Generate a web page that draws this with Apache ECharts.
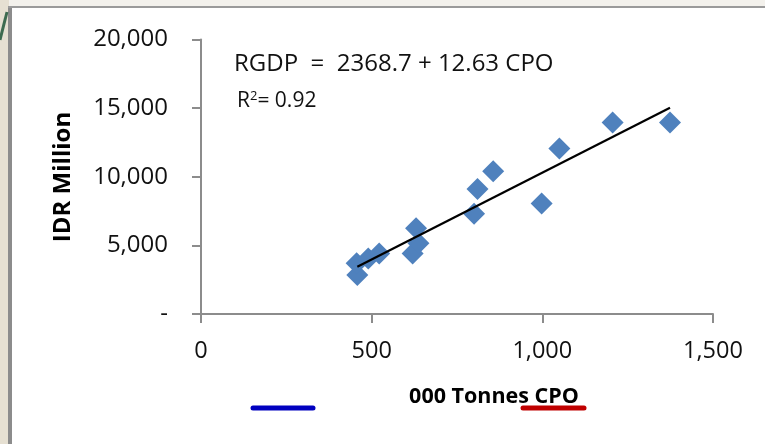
<!DOCTYPE html>
<html>
<head>
<meta charset="utf-8">
<script src="https://cdn.jsdelivr.net/npm/echarts@6/dist/echarts.min.js"></script>
<style>
html,body{margin:0;padding:0;background:#ffffff;}
#chart{width:765px;height:444px;}
</style>
</head>
<body>
<div id="chart"></div>
<script>
// Data
var cpo  = [458, 456, 490, 522, 620, 630, 637, 800, 810, 856, 998, 1050, 1206, 1374];
var rgdp = [2850, 3700, 4050, 4400, 4400, 6250, 5150, 7300, 9100, 10400, 8050, 12050, 13950, 13950];
var trendX = [458, 1374];
var trendY = [3450, 15030];
var yTickValues = [0, 5000, 10000, 15000, 20000];
var yTickLabels = ['-', '5,000', '10,000', '15,000', '20,000'];
var xTickValues = [0, 500, 1000, 1500];
var xTickLabels = ['0', '500', '1,000', '1,500'];
var equationText = 'RGDP  =  2368.7 + 12.63 CPO';
var r2Text = 'R{sup|2}= 0.92';
var xName = '000 Tonnes CPO';
var yName = 'IDR Million';

var FONT = '"Open Sans", "Liberation Sans", sans-serif';
var points = cpo.map(function (x, i) { return [x, rgdp[i]]; });
var trend = trendX.map(function (x, i) { return [x, trendY[i]]; });

var chart = echarts.init(document.getElementById('chart'));
chart.setOption({
  backgroundColor: '#ffffff',
  animation: false,
  grid: { left: 201, right: 52, top: 39.5, bottom: 130 },
  xAxis: {
    type: 'value', min: 0, max: 1500, interval: 500,
    axisLine: { show: true, lineStyle: { color: '#8c8c8c', width: 2 } },
    axisTick: { show: true, length: 9, lineStyle: { color: '#8c8c8c', width: 2 } },
    splitLine: { show: false },
    axisLabel: {
      margin: 25, color: '#111', fontFamily: FONT, fontSize: 23.5,
      formatter: function (v) { var i = xTickValues.indexOf(v); return i >= 0 ? xTickLabels[i] : ''; }
    }
  },
  yAxis: {
    type: 'value', min: 0, max: 20000, interval: 5000,
    axisLine: { show: true, lineStyle: { color: '#8c8c8c', width: 2 } },
    axisTick: { show: true, length: 9, lineStyle: { color: '#8c8c8c', width: 2 } },
    splitLine: { show: false },
    axisLabel: {
      margin: 33, color: '#111', fontFamily: FONT, fontSize: 24,
      formatter: function (v) { var i = yTickValues.indexOf(v); return i >= 0 ? yTickLabels[i] : ''; }
    }
  },
  series: [
    {
      type: 'scatter', data: points, symbol: 'diamond', symbolSize: 22,
      itemStyle: { color: '#4f81bd', opacity: 1 }, z: 2
    },
    {
      type: 'line', data: trend, symbol: 'none',
      lineStyle: { color: '#000000', width: 2.2 }, z: 3
    }
  ],
  graphic: [
    { type: 'rect', left: 0, top: 0, z: -10, shape: { width: 9, height: 444 }, style: { fill: '#e6e0d2' } },
    { type: 'rect', left: 9, top: 0, z: -10, shape: { width: 756, height: 6 }, style: { fill: '#f3f1ec' } },
    { type: 'rect', left: 8, top: 6, z: -9, shape: { width: 4, height: 438 }, style: { fill: '#8c8c8c' } },
    { type: 'rect', left: 8, top: 6, z: -9, shape: { width: 757, height: 2 }, style: { fill: '#9a9a9a' } },
    { type: 'line', z: -8, shape: { x1: 0, y1: 40, x2: 7, y2: 12 }, style: { stroke: '#3d6b50', lineWidth: 3 } },
    {
      type: 'text', x: 234, y: 64,
      style: { text: equationText, fontFamily: FONT, fontSize: 24, fill: '#111', verticalAlign: 'middle' }
    },
    {
      type: 'text', x: 237, y: 101,
      style: {
        text: r2Text, fontFamily: FONT, fontSize: 21, fill: '#111', verticalAlign: 'middle',
        rich: { sup: { fontSize: 13, verticalAlign: 'top', padding: [0, 0, 9, 0], fontFamily: FONT, fill: '#111' } }
      }
    },
    {
      type: 'text', x: 494, y: 397,
      style: { text: xName, fontFamily: FONT, fontSize: 21.5, fontWeight: 'bold', fill: '#000', align: 'center', verticalAlign: 'middle' }
    },
    {
      type: 'text', x: 63, y: 177, rotation: Math.PI / 2,
      style: { text: yName, fontFamily: FONT, fontSize: 24, fontWeight: 'bold', fill: '#000', align: 'center', verticalAlign: 'middle' }
    },
    { type: 'line', shape: { x1: 253, y1: 408, x2: 313, y2: 408 }, style: { stroke: '#0000c0', lineWidth: 5, lineCap: 'round' } },
    { type: 'line', shape: { x1: 523, y1: 408, x2: 584, y2: 408 }, style: { stroke: '#c00000', lineWidth: 5, lineCap: 'round' } }
  ]
});
</script>
</body>
</html>
